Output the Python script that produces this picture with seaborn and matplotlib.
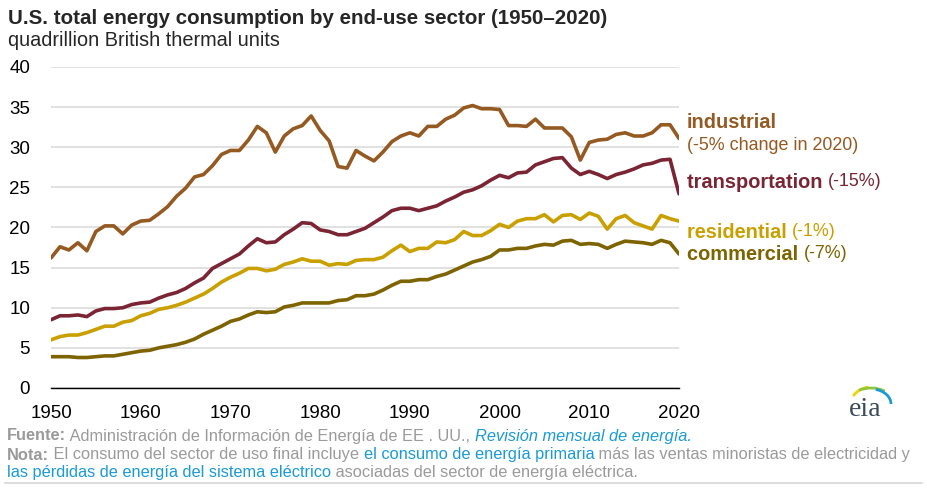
import numpy as np
import pandas as pd
import matplotlib
matplotlib.use("Agg")
import matplotlib.pyplot as plt
import seaborn as sns
from matplotlib.patches import Arc

# annual values, quadrillion Btu, 1950-2020
years = list(range(1950, 2021))

industrial = [16.2, 17.6, 17.2, 18.1, 17.1, 19.5, 20.2, 20.2, 19.2, 20.3,
              20.8, 20.9, 21.7, 22.6, 23.9, 24.9, 26.3, 26.6, 27.7, 29.1,
              29.6, 29.6, 30.9, 32.6, 31.8, 29.4, 31.4, 32.3, 32.7, 33.9,
              32.1, 30.8, 27.6, 27.4, 29.6, 28.9, 28.3, 29.4, 30.7, 31.4,
              31.8, 31.4, 32.6, 32.6, 33.5, 34.0, 34.9, 35.2, 34.8, 34.8,
              34.7, 32.7, 32.7, 32.6, 33.5, 32.4, 32.4, 32.4, 31.3, 28.4,
              30.6, 30.9, 31.0, 31.6, 31.8, 31.4, 31.4, 31.8, 32.8, 32.8,
              31.1]

transportation = [8.5, 9.0, 9.0, 9.1, 8.9, 9.6, 9.9, 9.9, 10.0, 10.4,
                  10.6, 10.7, 11.2, 11.6, 11.9, 12.4, 13.1, 13.7, 14.9, 15.5,
                  16.1, 16.7, 17.7, 18.6, 18.1, 18.2, 19.1, 19.8, 20.6, 20.5,
                  19.7, 19.5, 19.1, 19.1, 19.5, 19.9, 20.6, 21.3, 22.1, 22.4,
                  22.4, 22.1, 22.4, 22.7, 23.3, 23.8, 24.4, 24.7, 25.2, 25.9,
                  26.5, 26.2, 26.8, 26.9, 27.8, 28.2, 28.6, 28.7, 27.4, 26.6,
                  27.0, 26.6, 26.1, 26.6, 26.9, 27.3, 27.8, 28.0, 28.4, 28.5,
                  24.2]

residential = [6.0, 6.4, 6.6, 6.6, 6.9, 7.3, 7.7, 7.7, 8.2, 8.4,
               9.0, 9.3, 9.8, 10.0, 10.3, 10.7, 11.2, 11.7, 12.4, 13.2,
               13.8, 14.3, 14.9, 14.9, 14.6, 14.8, 15.4, 15.7, 16.1, 15.8,
               15.8, 15.3, 15.5, 15.4, 15.9, 16.0, 16.0, 16.3, 17.1, 17.8,
               17.0, 17.4, 17.4, 18.2, 18.1, 18.5, 19.5, 19.0, 19.0, 19.6,
               20.4, 20.0, 20.8, 21.1, 21.1, 21.6, 20.7, 21.5, 21.6, 21.0,
               21.8, 21.4, 19.8, 21.1, 21.5, 20.6, 20.2, 19.8, 21.5, 21.1,
               20.8]

commercial = [3.9, 3.9, 3.9, 3.8, 3.8, 3.9, 4.0, 4.0, 4.2, 4.4,
              4.6, 4.7, 5.0, 5.2, 5.4, 5.7, 6.1, 6.7, 7.2, 7.7,
              8.3, 8.6, 9.1, 9.5, 9.4, 9.5, 10.1, 10.3, 10.6, 10.6,
              10.6, 10.6, 10.9, 11.0, 11.5, 11.5, 11.7, 12.2, 12.8, 13.3,
              13.3, 13.5, 13.5, 13.9, 14.2, 14.7, 15.2, 15.7, 16.0, 16.4,
              17.2, 17.2, 17.4, 17.4, 17.7, 17.9, 17.8, 18.3, 18.4, 17.9,
              18.0, 17.9, 17.4, 17.9, 18.3, 18.2, 18.1, 17.9, 18.4, 18.1,
              16.7]

sectors = ["industrial", "transportation", "residential", "commercial"]
changes = ["(-5% change in 2020)", "(-15%)", "(-1%)", "(-7%)"]
colors = {"industrial": "#955a22", "transportation": "#7a2434",
          "residential": "#c9a000", "commercial": "#7d6400"}

df = pd.DataFrame({"year": years, "industrial": industrial,
                   "transportation": transportation,
                   "residential": residential, "commercial": commercial})
long = df.melt(id_vars="year", var_name="sector", value_name="quads")

sns.set_style("white")
plt.rcParams["font.family"] = ["Liberation Sans", "DejaVu Sans"]

fig = plt.figure(figsize=(9.27, 4.92), dpi=100)
ax = fig.add_axes([51 / 927, 1 - 388 / 492, 628 / 927, 321 / 492])

sns.lineplot(data=long, x="year", y="quads", hue="sector", hue_order=sectors,
             palette=colors, linewidth=2.6, legend=False, ax=ax)

ax.set_xlim(1950, 2020)
ax.set_ylim(0, 40)
ax.set_xticks(range(1950, 2021, 10))
ax.set_yticks(range(0, 41, 5))
ax.yaxis.grid(True, color="#d9d9d9", linewidth=1.1)
ax.set_axisbelow(True)
for s in ["top", "right", "left"]:
    ax.spines[s].set_visible(False)
ax.spines["bottom"].set_color("black")
ax.spines["bottom"].set_linewidth(1)
ax.tick_params(axis="x", direction="out", length=7, width=1, color="black",
               labelsize=13.5, labelcolor="black", pad=5)
ax.tick_params(axis="y", length=0, labelsize=13.5, labelcolor="black", pad=15)
ax.set_xlabel("")
ax.set_ylabel("")

# title block
fig.text(8 / 927, 1 - 18 / 492, "U.S. total energy consumption by end-use sector (1950\u20132020)",
         fontsize=14.8, fontweight="bold", va="center", ha="left")
fig.text(8 / 927, 1 - 40 / 492, "quadrillion British thermal units",
         fontsize=14.3, va="center", ha="left")

renderer = fig.canvas.get_renderer()


def rich_line(x_px, y_px, pieces):
    # pieces: list of (text, color, weight, style, size)
    x = x_px
    for txt, col, wt, st, sz in pieces:
        t = fig.text(x / 927, 1 - y_px / 492, txt, color=col, fontweight=wt,
                     fontstyle=st, fontsize=sz, va="center", ha="left")
        bb = t.get_window_extent(renderer=renderer)
        x += bb.width
    return x


# right-hand labels
lab_y = {"industrial": 123, "transportation": 182, "residential": 232, "commercial": 254}
for name, chg in zip(sectors, changes):
    c = colors[name]
    if name == "industrial":
        rich_line(687, lab_y[name], [(name, c, "bold", "normal", 14.4)])
        rich_line(687, 145, [(chg, c, "normal", "normal", 12.9)])
    else:
        rich_line(687, lab_y[name], [(name + " ", c, "bold", "normal", 14.4),
                                     (chg, c, "normal", "normal", 12.9)])

# footer
grey = "#9a9a9a"
blue = "#1a9ad6"
fs = 11.8
rich_line(7, 436, [("Fuente:", grey, "bold", "normal", fs),
                   (" Administraci\u00f3n de Informaci\u00f3n de Energ\u00eda de EE . UU., ", grey, "normal", "normal", fs),
                   ("Revisi\u00f3n mensual de energ\u00eda.", blue, "normal", "italic", fs)])
rich_line(7, 455, [("Nota:", grey, "bold", "normal", fs),
                   (" El consumo del sector de uso final incluye ", grey, "normal", "normal", fs),
                   ("el consumo de energ\u00eda primaria", blue, "normal", "normal", fs),
                   (" m\u00e1s las ventas minoristas de electricidad y", grey, "normal", "normal", fs)])
rich_line(7, 472, [("las p\u00e9rdidas de energ\u00eda del sistema el\u00e9ctrico", blue, "normal", "normal", fs),
                   (" asociadas del sector de energ\u00eda el\u00e9ctrica.", grey, "normal", "normal", fs)])
fig.add_artist(plt.Line2D([5 / 927, 922 / 927], [1 - 483 / 492, 1 - 483 / 492],
                          color="#dddddd", linewidth=1.5))

# eia logo
fig.text(865 / 927, 1 - 409 / 492, "eia", fontsize=20, color="#3c4b5a",
         family=["Liberation Serif", "DejaVu Serif"], ha="center", va="center")
for w, h, col, t1, t2 in [(40, 34, "#f2d200", 95, 140), (46, 32, "#8cc63f", 60, 115),
                          (40, 30, "#1a9ad6", 0, 80)]:
    arc = Arc((871 / 927, 1 - 404 / 492), w / 927, h / 492, theta1=t1, theta2=t2,
              color=col, linewidth=2, transform=fig.transFigure)
    fig.add_artist(arc)

fig.savefig("out.png", dpi=100, facecolor="white")
